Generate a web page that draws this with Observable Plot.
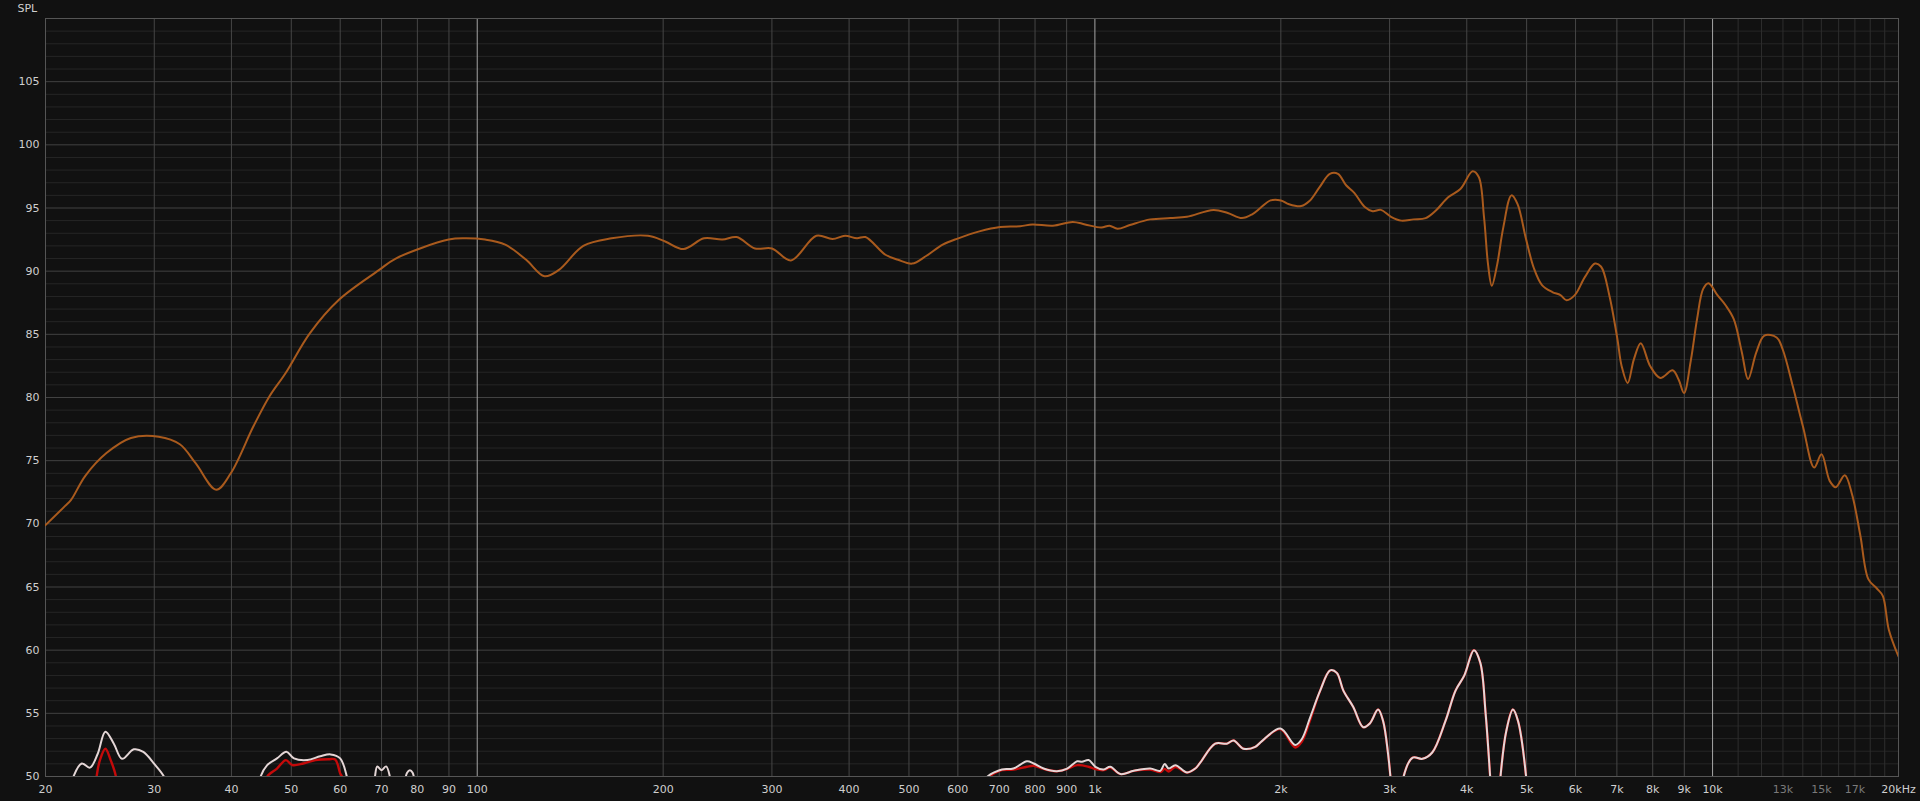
<!DOCTYPE html>
<html>
<head>
<meta charset="utf-8">
<script src="https://cdn.jsdelivr.net/npm/d3@7"></script>
<script src="https://cdn.jsdelivr.net/npm/@observablehq/plot@0.6"></script>
<style>
  html, body { margin: 0; padding: 0; background: #111111; }
  #chart { width: 1920px; height: 801px; }
</style>
</head>
<body>
<div id="chart"></div>
<script>
// ---- Data ----
const orangeFreq = [20,21.5,22,23.2,25.1,27.5,30.5,33,35,37.8,39.9,43.4,46.1,48.9,53.6,59.6,69.4,73.8,89.9,95.5,103,111,120,128.5,135.6,148.5,165,189,201.5,215.8,232.9,249.4,263,281.6,300,322,354,376,394,412,425,458,480,506,533,567,601,650,702,757,792,855,921,964,1024,1056,1088,1139,1229,1326,1409,1556,1641,1730,1797,1853,1925,2000,2062,2158,2225,2311,2401,2475,2551,2630,2732,2816,2904,3016,3132,3279,3432,3565,3732,3906,4088,4183,4266,4331,4391,4479,4583,4725,4834,4983,5136,5295,5502,5672,5803,5983,6215,6452,6601,6805,7015,7124,7288,7456,7651,7923,8229,8616,8814,8991,9226,9438,9656,9850,10184,10498,10822,11157,11415,11767,12130,12697,12990,13494,14017,14605,15011,15474,15830,16370,16826,17345,17882,18436,18861,19296,20000];
const orangeSpl  = [69.9,71.4,71.9,73.8,75.6,76.8,76.9,76.3,74.8,72.7,74.0,77.7,80.1,81.9,85.1,87.7,90.1,91.0,92.5,92.6,92.5,92.1,90.9,89.6,90.1,92.0,92.6,92.8,92.35,91.75,92.6,92.5,92.7,91.8,91.8,90.85,92.8,92.55,92.8,92.6,92.7,91.3,90.9,90.6,91.2,92.1,92.6,93.15,93.5,93.55,93.7,93.6,93.9,93.7,93.45,93.6,93.35,93.65,94.1,94.2,94.3,94.85,94.6,94.2,94.5,95.0,95.6,95.6,95.3,95.15,95.55,96.65,97.7,97.7,96.8,96.2,95.1,94.75,94.85,94.3,94.0,94.1,94.2,94.8,95.85,96.5,97.9,97.45,94.25,90.5,88.85,90.5,93.45,96.0,95.3,92.65,90.25,88.9,88.35,88.1,87.7,88.1,89.55,90.6,90.35,88.1,84.6,82.5,81.15,83.0,84.3,82.5,81.55,82.15,81.4,80.35,83.0,86.2,88.6,89.05,88.1,87.3,86.2,83.55,81.45,83.55,84.9,84.75,83.8,80.85,77.65,74.45,75.5,73.4,72.9,73.85,72.3,69.1,65.6,64.9,64.3,61.6,59.5];

const whiteFreq = [21.9,22.2,22.9,23.6,24.3,25.0,25.8,26.6,27.8,28.8,30,31.1,31.6,null,
  44.2,44.6,45.7,47.4,49.1,50.5,53.1,55.7,57.9,60.0,61.5,62,null,
  67.9,68.3,68.9,70.0,71.2,72.2,72.6,null,
  76.3,77.0,77.8,78.6,79.2,null,
  660,670,685.5,707,738,776,796,826,868,902,936,953,977,1002,1033,1059,1100,1156,1229,1276,1297,1317,1350,1410,1454,1481,1566,1635,1677,1740,1818,1864,1996,2110,2162,2232,2316,2404,2464,2525,2620,2719,2787,2874,2928,2983,3009,3030,null,
  3140,3161,3270,3390,3517,3695,3836,3964,4108,4207,4291,4364,4390,null,
  4510,4536,4635,4751,4842,4990,5020];
const whiteSpl = [48.5,50,51.03,50.7,51.8,53.55,52.6,51.4,52.15,51.95,51.0,50,49,null,
  49,50,50.9,51.43,51.96,51.43,51.3,51.6,51.75,51.43,50,49,null,
  49,50,50.8,50.5,50.8,50,49,null,
  49.5,50.3,50.5,50.3,49.5,null,
  49.7,50,50.3,50.56,50.63,51.2,51.03,50.63,50.42,50.63,51.2,51.16,51.3,50.77,50.56,50.77,50.19,50.45,50.63,50.45,50.98,50.63,50.9,50.32,50.63,51.1,52.6,52.6,52.85,52.2,52.35,52.8,53.8,52.5,52.95,54.7,56.8,58.4,58.2,56.8,55.5,53.9,54.2,55.3,54.4,51.8,50,48,null,
  48,50,51.5,51.4,51.9,54.4,56.8,58.0,60.0,59.0,55.0,50,48,null,
  48,50,53.6,55.3,54.4,50,48];

const redFreq = [24.1,24.2,24.5,25.0,25.5,26.0,26.1,null,
  45.5,45.7,47.4,49.0,50.2,52.3,54.7,57.5,58.9,60.0,60.4,60.6,null,
  665,675,690,707,738,776,796,826,868,902,936,977,1002,1033,1059,1100,1156,1229,1276,1297,1317,1350,1410,1454,1481,1566,1635,1677,1740,1818,1864,1996,2110,2162,2232,2316,2404,2464,2525,2620,2719,2787,2874,2928,2983,3009,3030,null,
  3140,3161,3270,3390,3517,3695,3836,3964,4108,4207,4291,4364,4390,null,
  4510,4536,4635,4751,4842,4990,5020];
const redSpl = [48.5,50,51.3,52.2,51.3,50,48.5,null,
  49.5,50,50.63,51.3,50.9,51.03,51.3,51.37,51.35,50.24,50,49.5,null,
  49.7,50,50.3,50.5,50.55,50.77,50.85,50.6,50.42,50.6,50.9,50.77,50.58,50.5,50.7,50.19,50.45,50.55,50.35,50.6,50.4,50.75,50.32,50.63,51.1,52.6,52.6,52.85,52.2,52.35,52.8,53.75,52.3,52.75,54.5,56.8,58.4,58.2,56.8,55.5,53.9,54.2,55.3,54.4,51.8,50,48,null,
  48,50,51.5,51.4,51.9,54.4,56.8,58.0,60.0,59.0,55.0,50,48,null,
  48,50,53.6,55.3,54.4,50,48];

// Axis ticks and labels
const xTicks = [20,30,40,50,60,70,80,90,100,200,300,400,500,600,700,800,900,1000,2000,3000,4000,5000,6000,7000,8000,9000,10000,20000];
const xTickLabels = ["20","30","40","50","60","70","80","90","100","200","300","400","500","600","700","800","900","1k","2k","3k","4k","5k","6k","7k","8k","9k","10k","20kHz"];
const xDimTicks = [13000,15000,17000];
const xDimLabels = ["13k","15k","17k"];
const yTicks = [50,55,60,65,70,75,80,85,90,95,100,105];

// Grid positions
const gridMajorX = [30,40,50,60,70,80,90,200,300,400,500,600,700,800,900,2000,3000,4000,5000,6000,7000,8000,9000];
const gridDecadeX = [100,1000,10000];
const gridMinorX = [11000,12000,13000,14000,15000,16000,17000,18000,19000];
const gridMajorY = [55,60,65,70,75,80,85,90,95,100,105];
const gridMinorY = d3.range(51,110).filter(v => v % 5 !== 0);

const idx = arr => arr.map((_, i) => i);

const chart = Plot.plot({
  width: 1920,
  height: 801,
  marginLeft: 45,
  marginRight: 22,
  marginTop: 18,
  marginBottom: 25,
  x: {type: "log", domain: [20, 20000], axis: null},
  y: {domain: [50, 110]},
  style: {background: "#111111", color: "#c8c8c8", fontFamily: "DejaVu Sans", fontSize: "11px"},
  marks: [
    Plot.ruleY(gridMinorY, {stroke: "#262626"}),
    Plot.ruleX(gridMinorX, {stroke: "#2e2e2e"}),
    Plot.ruleY(gridMajorY, {stroke: "#424242"}),
    Plot.ruleX(gridMajorX, {stroke: "#464646"}),
    Plot.ruleX(gridDecadeX, {stroke: "#a6a6a6"}),
    Plot.frame({stroke: "#555555"}),
    Plot.line(idx(orangeFreq), {x: i => orangeFreq[i], y: i => orangeSpl[i], stroke: "#a95a1d", strokeWidth: 2, curve: "catmull-rom", clip: true}),
    Plot.line(idx(redFreq), {x: i => redFreq[i], y: i => redSpl[i], stroke: "#c40a0a", strokeWidth: 2.4, curve: "catmull-rom", clip: true}),
    Plot.line(idx(whiteFreq), {x: i => whiteFreq[i], y: i => whiteSpl[i], stroke: "#e4d6d6", strokeWidth: 2, curve: "catmull-rom", clip: true}),
    Plot.text(idx(xTicks), {x: i => xTicks[i], text: i => xTickLabels[i], frameAnchor: "bottom", dy: 13, lineAnchor: "middle", textAnchor: "middle", fill: "#cfcfcf"}),
    Plot.text(idx(xDimTicks), {x: i => xDimTicks[i], text: i => xDimLabels[i], frameAnchor: "bottom", dy: 13, lineAnchor: "middle", textAnchor: "middle", fill: "#7a7a7a"}),
    Plot.axisY({ticks: yTicks, tickSize: 0, tickPadding: 6, fill: "#cfcfcf", label: null}),
    Plot.text(["SPL"], {frameAnchor: "top-left", text: d => d, dx: -28, dy: -10, textAnchor: "start", lineAnchor: "middle", fill: "#cfcfcf"})
  ]
});
document.getElementById("chart").appendChild(chart);
</script>
</body>
</html>
